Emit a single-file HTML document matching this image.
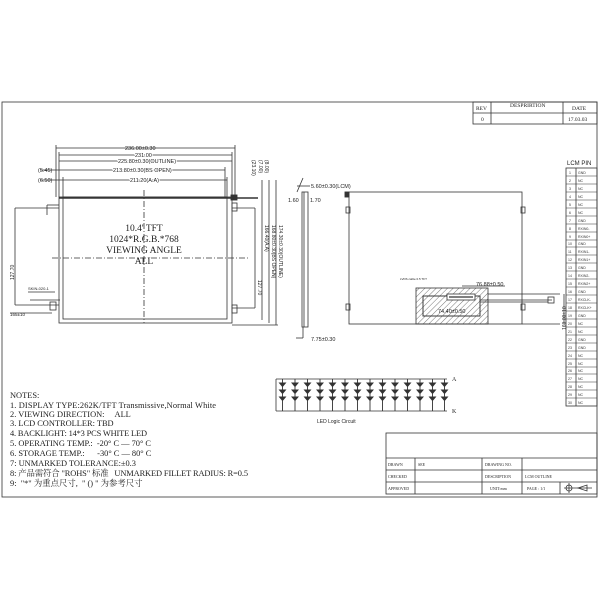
<!DOCTYPE html>
<html><head><meta charset="utf-8"><style>
html,body{margin:0;padding:0;background:#fff}
svg{display:block}
.s{font-family:"Liberation Sans",sans-serif}
.r{font-family:"Liberation Serif","Noto Serif CJK SC",serif}
</style></head><body>
<svg width="600" height="600" viewBox="0 0 600 600" xmlns="http://www.w3.org/2000/svg">
<defs>
<pattern id="h" width="4" height="4" patternUnits="userSpaceOnUse" patternTransform="rotate(45)"><line x1="0" y1="0" x2="0" y2="4" stroke="#555" stroke-width="0.8"/></pattern>
</defs>
<g fill="none" stroke="#333" stroke-width="0.8">
<rect x="2" y="102" width="595" height="395"/>
<rect x="473" y="102" width="124" height="22"/>
<line x1="473" y1="113" x2="597" y2="113"/>
<line x1="491" y1="102" x2="491" y2="124"/>
<line x1="563" y1="102" x2="563" y2="124"/>
<rect x="59" y="197" width="173" height="126"/>
<rect x="63" y="197" width="164" height="122"/>
<line x1="59" y1="198" x2="258" y2="198" stroke-width="1.6"/>
<line x1="144" y1="190" x2="144" y2="323" stroke-dasharray="6,2,1,2"/>
<line x1="52" y1="258" x2="250" y2="258" stroke-dasharray="6,2,1,2"/>
<line x1="56" y1="148" x2="235" y2="148"/><line x1="56" y1="145" x2="56" y2="197"/><line x1="235" y1="145" x2="235" y2="197"/>
<line x1="59" y1="155" x2="232" y2="155"/><line x1="59" y1="152" x2="59" y2="197"/><line x1="232" y1="152" x2="232" y2="197"/>
<line x1="59" y1="161" x2="232" y2="161"/>
<line x1="40" y1="170" x2="225" y2="170"/><line x1="225" y1="167" x2="225" y2="197"/>
<line x1="40" y1="180" x2="227" y2="180"/><line x1="63" y1="177" x2="63" y2="197"/><line x1="227" y1="177" x2="227" y2="197"/>
<line x1="232" y1="208" x2="255" y2="208"/><line x1="255" y1="208" x2="255" y2="308"/><line x1="232" y1="308" x2="255" y2="308"/>
<line x1="262" y1="180" x2="262" y2="320"/><line x1="269" y1="180" x2="269" y2="323"/><line x1="276" y1="180" x2="276" y2="325"/>
<line x1="232" y1="325" x2="278" y2="325"/>
<rect x="232" y="203" width="5" height="8"/><rect x="232" y="305" width="5" height="8"/>
<line x1="15" y1="208" x2="59" y2="208"/><line x1="15" y1="208" x2="15" y2="305"/><line x1="15" y1="305" x2="59" y2="305"/>
<line x1="47" y1="205" x2="59" y2="205"/><line x1="47" y1="205" x2="47" y2="215"/>
<rect x="50" y="302" width="6" height="8"/>
<line x1="28" y1="292" x2="55" y2="292"/><line x1="30" y1="300" x2="60" y2="300"/>
<line x1="10" y1="313" x2="52" y2="313"/>
<rect x="302" y="192" width="6" height="135"/>
<line x1="304" y1="192" x2="304" y2="327"/>
<line x1="297" y1="186" x2="310" y2="186"/><line x1="303" y1="178" x2="297" y2="192"/>
<line x1="296" y1="338" x2="303" y2="338"/><line x1="303" y1="327" x2="303" y2="338"/>
<rect x="349" y="192" width="173" height="132"/>
<rect x="346" y="207" width="4" height="6"/><rect x="521" y="207" width="4" height="6"/>
<rect x="346" y="304" width="4" height="6"/><rect x="521" y="304" width="4" height="6"/>
<rect x="416" y="288" width="72" height="36" fill="url(#h)"/>
<rect x="423" y="296" width="57" height="20" fill="#fff"/>
<rect x="423" y="296" width="57" height="20" fill="url(#h)"/>
<rect x="447" y="294" width="28" height="6" fill="#fff"/>
<line x1="449" y1="297" x2="473" y2="297" stroke-width="1.3"/>
<line x1="462" y1="286" x2="505" y2="286"/>
<line x1="480" y1="300" x2="552" y2="300"/><line x1="480" y1="302" x2="548" y2="302"/>
<rect x="548" y="297" width="6" height="6"/>
<line x1="488" y1="294" x2="560" y2="294"/><line x1="522" y1="324" x2="560" y2="324"/>
<line x1="564" y1="294" x2="564" y2="324"/>
<rect x="566" y="168" width="31" height="238"/>
<line x1="576" y1="168" x2="576" y2="406"/>
<rect x="386" y="433" width="211" height="61"/>
<line x1="386" y1="458" x2="597" y2="458"/><line x1="386" y1="470" x2="597" y2="470"/><line x1="386" y1="482" x2="597" y2="482"/>
<line x1="415" y1="458" x2="415" y2="494"/><line x1="482" y1="458" x2="482" y2="494"/><line x1="522" y1="458" x2="522" y2="494"/><line x1="560" y1="482" x2="560" y2="494"/>
<circle cx="569" cy="488" r="3"/><line x1="564" y1="488" x2="592" y2="488"/><line x1="569" y1="483" x2="569" y2="493"/>
<path d="M578 488 L587 485 L587 491 Z"/>
<line x1="276" y1="379" x2="447" y2="379"/><line x1="276" y1="411" x2="447" y2="411"/>
<line x1="276" y1="379" x2="276" y2="411"/>
</g>
<g stroke="#333" stroke-width="0.9" fill="#333">
<path d="M279.5 383 l6 0 l-3 3.5 z M279.5 390 l6 0 l-3 3.5 z M279.5 397 l6 0 l-3 3.5 z M282.5 379 L282.5 411"/>
<path d="M292 383 l6 0 l-3 3.5 z M292 390 l6 0 l-3 3.5 z M292 397 l6 0 l-3 3.5 z M295 379 L295 411"/>
<path d="M304.5 383 l6 0 l-3 3.5 z M304.5 390 l6 0 l-3 3.5 z M304.5 397 l6 0 l-3 3.5 z M307.5 379 L307.5 411"/>
<path d="M317 383 l6 0 l-3 3.5 z M317 390 l6 0 l-3 3.5 z M317 397 l6 0 l-3 3.5 z M320 379 L320 411"/>
<path d="M329.5 383 l6 0 l-3 3.5 z M329.5 390 l6 0 l-3 3.5 z M329.5 397 l6 0 l-3 3.5 z M332.5 379 L332.5 411"/>
<path d="M342 383 l6 0 l-3 3.5 z M342 390 l6 0 l-3 3.5 z M342 397 l6 0 l-3 3.5 z M345 379 L345 411"/>
<path d="M354.5 383 l6 0 l-3 3.5 z M354.5 390 l6 0 l-3 3.5 z M354.5 397 l6 0 l-3 3.5 z M357.5 379 L357.5 411"/>
<path d="M367 383 l6 0 l-3 3.5 z M367 390 l6 0 l-3 3.5 z M367 397 l6 0 l-3 3.5 z M370 379 L370 411"/>
<path d="M379.5 383 l6 0 l-3 3.5 z M379.5 390 l6 0 l-3 3.5 z M379.5 397 l6 0 l-3 3.5 z M382.5 379 L382.5 411"/>
<path d="M392 383 l6 0 l-3 3.5 z M392 390 l6 0 l-3 3.5 z M392 397 l6 0 l-3 3.5 z M395 379 L395 411"/>
<path d="M404.5 383 l6 0 l-3 3.5 z M404.5 390 l6 0 l-3 3.5 z M404.5 397 l6 0 l-3 3.5 z M407.5 379 L407.5 411"/>
<path d="M417 383 l6 0 l-3 3.5 z M417 390 l6 0 l-3 3.5 z M417 397 l6 0 l-3 3.5 z M420 379 L420 411"/>
<path d="M429.5 383 l6 0 l-3 3.5 z M429.5 390 l6 0 l-3 3.5 z M429.5 397 l6 0 l-3 3.5 z M432.5 379 L432.5 411"/>
<path d="M441.5 383 l6 0 l-3 3.5 z M441.5 390 l6 0 l-3 3.5 z M441.5 397 l6 0 l-3 3.5 z M444.5 379 L444.5 411"/>
<rect x="231" y="195" width="6" height="5"/><rect x="345" y="192" width="4" height="5"/>
</g>
<g stroke="#333" stroke-width="0.5">
<line x1="566" y1="176" x2="597" y2="176"/><line x1="566" y1="184" x2="597" y2="184"/><line x1="566" y1="192" x2="597" y2="192"/><line x1="566" y1="200" x2="597" y2="200"/><line x1="566" y1="208" x2="597" y2="208"/><line x1="566" y1="216" x2="597" y2="216"/><line x1="566" y1="224" x2="597" y2="224"/><line x1="566" y1="232" x2="597" y2="232"/><line x1="566" y1="240" x2="597" y2="240"/><line x1="566" y1="247" x2="597" y2="247"/><line x1="566" y1="255" x2="597" y2="255"/><line x1="566" y1="263" x2="597" y2="263"/><line x1="566" y1="271" x2="597" y2="271"/><line x1="566" y1="279" x2="597" y2="279"/><line x1="566" y1="287" x2="597" y2="287"/><line x1="566" y1="295" x2="597" y2="295"/><line x1="566" y1="303" x2="597" y2="303"/><line x1="566" y1="311" x2="597" y2="311"/><line x1="566" y1="319" x2="597" y2="319"/><line x1="566" y1="327" x2="597" y2="327"/><line x1="566" y1="335" x2="597" y2="335"/><line x1="566" y1="343" x2="597" y2="343"/><line x1="566" y1="351" x2="597" y2="351"/><line x1="566" y1="359" x2="597" y2="359"/><line x1="566" y1="367" x2="597" y2="367"/><line x1="566" y1="374" x2="597" y2="374"/><line x1="566" y1="382" x2="597" y2="382"/><line x1="566" y1="390" x2="597" y2="390"/><line x1="566" y1="398" x2="597" y2="398"/>
</g>
<g class="s" font-size="3.5" fill="#333">
<text x="569" y="174">1</text><text x="578" y="174">GND</text>
<text x="569" y="182">2</text><text x="578" y="182">NC</text>
<text x="569" y="190">3</text><text x="578" y="190">NC</text>
<text x="569" y="198">4</text><text x="578" y="198">NC</text>
<text x="569" y="206">5</text><text x="578" y="206">NC</text>
<text x="569" y="214">6</text><text x="578" y="214">NC</text>
<text x="569" y="222">7</text><text x="578" y="222">GND</text>
<text x="569" y="230">8</text><text x="578" y="230">RXIN0-</text>
<text x="569" y="238">9</text><text x="578" y="238">RXIN0+</text>
<text x="568" y="245">10</text><text x="578" y="245">GND</text>
<text x="568" y="253">11</text><text x="578" y="253">RXIN1-</text>
<text x="568" y="261">12</text><text x="578" y="261">RXIN1+</text>
<text x="568" y="269">13</text><text x="578" y="269">GND</text>
<text x="568" y="277">14</text><text x="578" y="277">RXIN2-</text>
<text x="568" y="285">15</text><text x="578" y="285">RXIN2+</text>
<text x="568" y="293">16</text><text x="578" y="293">GND</text>
<text x="568" y="301">17</text><text x="578" y="301">RXCLK-</text>
<text x="568" y="309">18</text><text x="578" y="309">RXCLK+</text>
<text x="568" y="317">19</text><text x="578" y="317">GND</text>
<text x="568" y="325">20</text><text x="578" y="325">NC</text>
<text x="568" y="333">21</text><text x="578" y="333">NC</text>
<text x="568" y="341">22</text><text x="578" y="341">GND</text>
<text x="568" y="349">23</text><text x="578" y="349">GND</text>
<text x="568" y="357">24</text><text x="578" y="357">NC</text>
<text x="568" y="365">25</text><text x="578" y="365">NC</text>
<text x="568" y="372">26</text><text x="578" y="372">NC</text>
<text x="568" y="380">27</text><text x="578" y="380">NC</text>
<text x="568" y="388">28</text><text x="578" y="388">NC</text>
<text x="568" y="396">29</text><text x="578" y="396">NC</text>
<text x="568" y="404">30</text><text x="578" y="404">NC</text>
</g>
<g class="s" font-size="5.5" fill="#222">
<text x="567" y="165" font-size="6">LCM  PIN</text>
<text x="125" y="150">236.00±0.30</text>
<text x="135" y="157" style="paint-order:stroke" stroke="#fff" stroke-width="2">231.00</text>
<text x="118" y="163" style="paint-order:stroke" stroke="#fff" stroke-width="2">225.80±0.30(OUTLINE)</text>
<text x="113" y="172" style="paint-order:stroke" stroke="#fff" stroke-width="2">213.80±0.30(BS OPEN)</text>
<text x="130" y="182" style="paint-order:stroke" stroke="#fff" stroke-width="2">211.20(A.A)</text>
<text x="38" y="172">(5.45)</text>
<text x="38" y="182">(6.50)</text>
<text x="10" y="316" font-size="4.5">165±10</text>
<text x="28" y="290" font-size="4">SKIN-020-1</text>
<text x="311" y="188">5.60±0.30(LCM)</text>
<text x="288" y="202">1.60</text><text x="310" y="202">1.70</text>
<text x="311" y="341">7.75±0.30</text>
<text x="476" y="286">76.88±0.50</text>
<text x="438" y="313">74.40±0.50</text>
<text x="400" y="280" font-size="3">LVDS cable 0.5 TFT</text>
</g>
<g class="s" font-size="5" fill="#222">
<text transform="translate(14,280) rotate(-90)">127.70</text>
<text transform="translate(258,280) rotate(90)">127.70</text>
<text transform="translate(265,225) rotate(90)">166.40(A.A)</text>
<text transform="translate(272,225) rotate(90)">168.80±0.30(BS OPEN)</text>
<text transform="translate(279,225) rotate(90)">174.30±0.30(OUTLINE)</text>
<text transform="translate(252,160) rotate(90)">(23.10)</text>
<text transform="translate(259,160) rotate(90)">(7.00)</text>
<text transform="translate(265,160) rotate(90)">(8.00)</text>
<text transform="translate(566,330) rotate(-90)">160.00±10</text>
</g>
<g class="r" fill="#222">
<text x="144" y="231" font-size="9.5" text-anchor="middle">10.4' TFT</text>
<text x="144" y="242" font-size="9.5" text-anchor="middle">1024*R.G.B.*768</text>
<text x="144" y="253" font-size="9.5" text-anchor="middle">VIEWING ANGLE</text>
<text x="144" y="264" font-size="9.5" text-anchor="middle">ALL</text>
<g font-size="5.5">
<text x="476" y="110">REV</text><text x="510" y="107">DESPRIRTION</text><text x="572" y="110">DATE</text>
<text x="481" y="121">0</text><text x="568" y="121">17.03.03</text>
</g>
<text x="452" y="381" font-size="6">A</text>
<text x="452" y="413" font-size="6">K</text>
<g font-size="8.4">
<text x="10" y="398">NOTES:</text>
<text x="10" y="408" textLength="206">1. DISPLAY TYPE:262K/TFT Transmissive,Normal White</text>
<text x="10" y="417" xml:space="preserve">2. VIEWING DIRECTION:     ALL</text>
<text x="10" y="426">3. LCD CONTROLLER: TBD</text>
<text x="10" y="436" textLength="137">4. BACKLIGHT: 14*3 PCS WHITE LED</text>
<text x="10" y="446" xml:space="preserve">5. OPERATING TEMP.:  -20° C — 70° C</text>
<text x="10" y="456" xml:space="preserve">6. STORAGE TEMP.:      -30° C — 80° C</text>
<text x="10" y="466">7: UNMARKED TOLERANCE:±0.3</text>
<text x="10" y="476" xml:space="preserve" textLength="238">8: 产品需符合 "ROHS" 标准   UNMARKED FILLET RADIUS: R=0.5</text>
<text x="10" y="486" xml:space="preserve">9:  "*" 为重点尺寸,  " () " 为参考尺寸</text>
</g>
<g font-size="4">
<text x="388" y="466">DRAWN</text><text x="418" y="466">SEE</text><text x="485" y="466">DRAWING NO.</text>
<text x="388" y="478">CHECKED</text><text x="485" y="478">DESCRIPTION</text><text x="525" y="478">LCM OUTLINE</text>
<text x="388" y="490">APPROVED</text><text x="490" y="490">UNIT:mm</text><text x="527" y="490">PAGE : 1/1</text>
</g>
</g>
<text x="317" y="423" class="s" font-size="5" fill="#222">LED Logic Circuit</text>
</svg>
</body></html>
